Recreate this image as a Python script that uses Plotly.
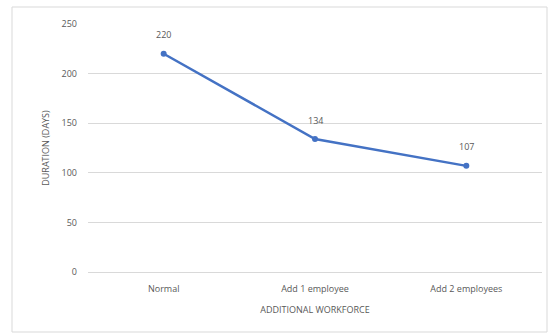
import plotly.graph_objects as go

categories = ["Normal", "Add 1 employee", "Add 2 employees"]
duration_days = [220, 134, 107]
y_ticks = [0, 50, 100, 150, 200, 250]

line_color = "#4472C4"
text_color = "#595959"
font_family = "Open Sans, Liberation Sans, sans-serif"

fig = go.Figure()
fig.add_trace(go.Scatter(
    x=categories,
    y=duration_days,
    mode="lines+markers",
    line=dict(color=line_color, width=2.5),
    marker=dict(color=line_color, size=6),
    hoverinfo="skip",
    showlegend=False,
))

# value labels above each point
for cat, val in zip(categories, duration_days):
    fig.add_annotation(
        x=cat, y=val, text=str(val), showarrow=False,
        yshift=19, font=dict(size=9, color=text_color, family=font_family),
    )

# chart border
fig.add_shape(
    type="rect", xref="paper", yref="paper",
    x0=-76 / 454, x1=1 + 5 / 454, y0=-60 / 248, y1=1 + 17 / 248,
    line=dict(color="#D9D9D9", width=1), fillcolor="rgba(0,0,0,0)",
    layer="below",
)

fig.update_layout(
    width=550, height=333,
    margin=dict(l=88, r=8, t=24, b=61),
    paper_bgcolor="white", plot_bgcolor="white",
    font=dict(family=font_family, size=9, color=text_color),
    xaxis=dict(
        type="category", range=[-0.5, 2.5],
        showgrid=False, zeroline=False, showline=False, ticks="",
        ticklabelstandoff=10,
        tickfont=dict(size=9, color=text_color),
        title=dict(text="ADDITIONAL WORKFORCE", standoff=12,
                   font=dict(size=9, color=text_color)),
    ),
    yaxis=dict(
        range=[0, 250], tickvals=y_ticks,
        showgrid=True, gridcolor="#D9D9D9", gridwidth=1,
        zeroline=True, zerolinecolor="#D9D9D9", zerolinewidth=1,
        showline=False, ticks="",
        ticklabelstandoff=10,
        tickfont=dict(size=9, color=text_color),
        title=dict(text="DURATION (DAYS)", standoff=10,
                   font=dict(size=9, color=text_color)),
    ),
)

fig.write_html("out.html")
